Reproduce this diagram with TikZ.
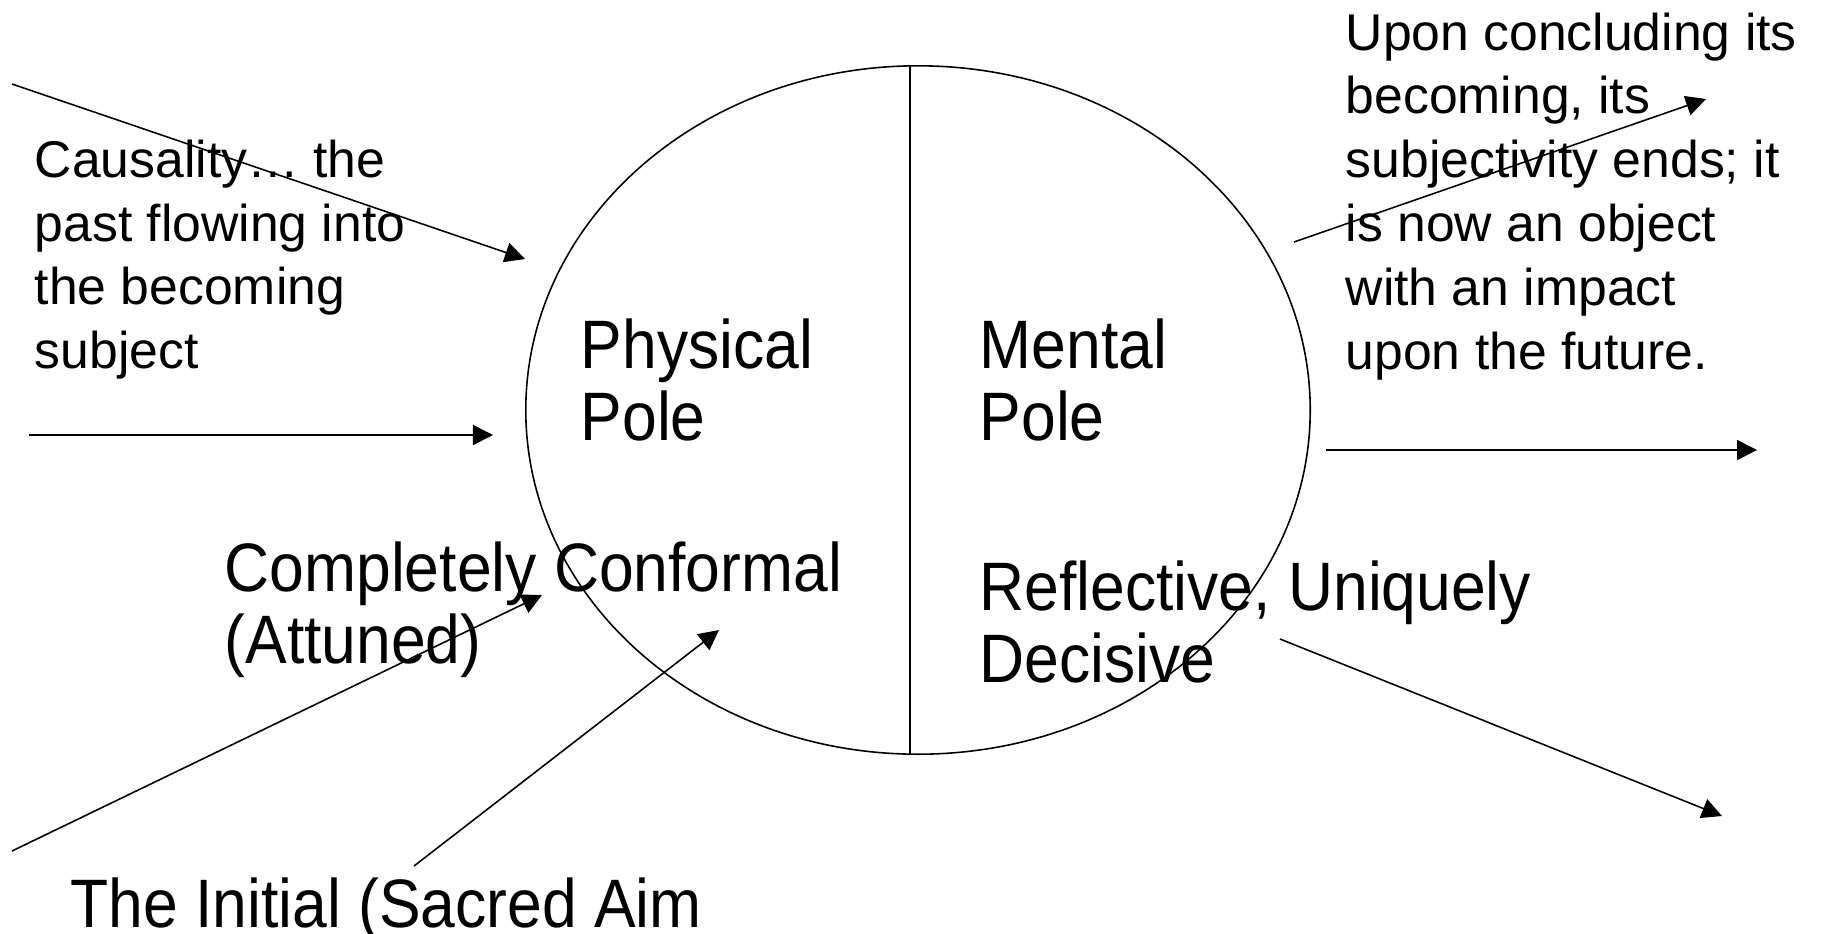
\documentclass[tikz,border=0pt]{standalone}
\usepackage{fontspec}
\setmainfont{Liberation Sans}
\newfontfamily\polefont[FakeStretch=0.91]{Liberation Sans}
\usetikzlibrary{shapes.geometric}
\usetikzlibrary{arrows.meta}

\begin{document}
\begin{tikzpicture}[x=0.01cm,y=-0.01cm,
  smalltext/.style={anchor=north west,align=left,inner sep=0pt,font=\fontsize{14.7}{18.15}\selectfont},
  bigtext/.style={anchor=north west,align=left,inner sep=0pt,font=\polefont\fontsize{19.5}{20.5}\selectfont},
  flow/.style={-{Triangle[length=2mm,width=2mm]},line width=0.45pt}]
\useasboundingbox (0,0) rectangle (1828,933);

% the becoming subject
\node (occasion) [ellipse,draw,line width=0.45pt,minimum width=7.84cm,minimum height=6.88cm,inner sep=0pt] at (918,410) {};
\draw[line width=0.45pt] ([xshift=-0.08cm]occasion.north) -- ([xshift=-0.08cm]occasion.south);

% texts
\node (causality) [smalltext] at (34,139) {Causality… the\\past flowing into\\the becoming\\subject};
\node (concluding) [smalltext] at (1345,12) {Upon concluding its\\becoming, its\\subjectivity ends; it\\is now an object\\with an impact\\upon the future.};
\node (physical) [bigtext] at (580,318) {Physical\\Pole};
\node (mental) [bigtext] at (979,318) {Mental\\Pole};
\node (conformal) [bigtext] at (224,541) {Completely Conformal\\(Attuned)};
\node (reflective) [bigtext] at (979,560) {Reflective, Uniquely\\Decisive};
\node (initial) [bigtext] at (70,877) {The Initial (Sacred Aim};

% arrow ends
\coordinate (pastA) at (12,84);     \coordinate (pastA') at (525,259);
\coordinate (pastB) at (29,435);    \coordinate (pastB') at (493,435);
\coordinate (pastC) at (12,851);    \coordinate (pastC') at (542,595);
\coordinate (aim) at (414,866);     \coordinate (aim') at (719,630);
\coordinate (futA) at (1294,242);   \coordinate (futA') at (1706,99);
\coordinate (futB) at (1326,450);   \coordinate (futB') at (1757,450);
\coordinate (futC) at (1280,639);   \coordinate (futC') at (1722,816);

\draw[flow] (pastA) -- (pastA');
\draw[flow] (pastB) -- (pastB');
\draw[flow] (pastC) -- (pastC');
\draw[flow] (aim) -- (aim');
\draw[flow] (futA) -- (futA');
\draw[flow] (futB) -- (futB');
\draw[flow] (futC) -- (futC');
\end{tikzpicture}
\end{document}
